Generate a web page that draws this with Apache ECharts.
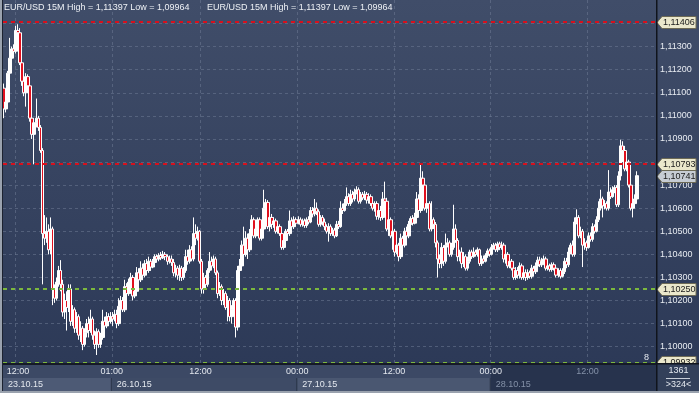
<!DOCTYPE html>
<html><head><meta charset="utf-8">
<script src="https://cdn.jsdelivr.net/npm/echarts@6/dist/echarts.min.js"></script>
<style>html,body{margin:0;padding:0;background:#34415c;}#c{width:699px;height:393px;}</style>
</head><body><div id="c"></div>
<script>
// prices stored as points above 1.00000 : price = 1 + pts / 100000
const openPts = [
11120,11030,11060,11185,11250,11290,11280,11370,11360,11230,
11150,11100,11170,11130,10990,10920,10970,10990,10950,10850,
10490,10470,10500,10420,10510,10250,10210,10280,10330,10270,
10150,10200,10170,10250,10110,10160,10080,10130,10050,10080,
10010,10060,10100,10070,10120,10050,10010,10065,10010,10040,
10110,10090,10130,10110,10130,10120,10140,10100,10175,10200,
10160,10260,10230,10280,10300,10220,10240,10320,10290,10340,
10310,10360,10330,10370,10345,10365,10390,10380,10395,10385,
10400,10390,10370,10380,10365,10320,10340,10310,10340,10300,
10330,10390,10370,10420,10380,10490,10470,10500,10370,10250,
10300,10270,10330,10370,10350,10380,10320,10230,10260,10200,
10230,10170,10200,10130,10160,10200,10085,10330,10350,10440,
10400,10470,10420,10490,10550,10480,10510,10550,10470,10510,
10600,10625,10520,10560,10530,10545,10500,10520,10490,10430,
10460,10500,10490,10545,10520,10550,10535,10550,10530,10545,
10525,10550,10540,10590,10575,10600,10585,10530,10560,10540,
10520,10500,10520,10490,10505,10480,10530,10520,10600,10590,
10620,10650,10620,10660,10640,10670,10680,10630,10660,10645,
10660,10635,10650,10620,10600,10620,10565,10590,10560,10640,
10630,10510,10550,10480,10500,10410,10440,10390,10470,10440,
10500,10480,10530,10555,10535,10560,10640,10590,10730,10700,
10600,10620,10510,10550,10530,10450,10380,10360,10430,10370,
10440,10450,10400,10430,10510,10460,10390,10410,10360,10390,
10340,10370,10410,10390,10410,10400,10420,10360,10380,10370,
10395,10415,10400,10430,10440,10420,10445,10430,10440,10380,
10400,10350,10370,10340,10300,10330,10310,10350,10300,10320,
10300,10320,10305,10340,10325,10350,10375,10355,10370,10380,
10340,10350,10335,10355,10340,10310,10330,10305,10325,10370,
10355,10410,10440,10400,10540,10560,10480,10500,10440,10450,
10430,10480,10465,10520,10500,10550,10600,10640,10610,10620,
10600,10670,10650,10680,10690,10615,10740,10870,10850,10770,
10800,10700,10600,10620,10640
];
const closePts = [
11030,11060,11185,11250,11290,11280,11370,11360,11230,11150,
11100,11170,11130,10990,10920,10970,10990,10950,10850,10490,
10470,10500,10420,10510,10250,10210,10280,10330,10270,10150,
10200,10170,10250,10110,10160,10080,10130,10050,10080,10010,
10060,10100,10070,10120,10050,10010,10065,10010,10040,10110,
10090,10130,10110,10130,10120,10140,10100,10175,10200,10160,
10260,10230,10280,10300,10220,10240,10320,10290,10340,10310,
10360,10330,10370,10345,10365,10390,10380,10395,10385,10400,
10390,10370,10380,10365,10320,10340,10310,10340,10300,10330,
10390,10370,10420,10380,10490,10470,10500,10370,10250,10300,
10270,10330,10370,10350,10380,10320,10230,10260,10200,10230,
10170,10200,10130,10160,10200,10085,10330,10350,10440,10400,
10470,10420,10490,10550,10480,10510,10550,10470,10510,10600,
10625,10520,10560,10530,10545,10500,10520,10490,10430,10460,
10500,10490,10545,10520,10550,10535,10550,10530,10545,10525,
10550,10540,10590,10575,10600,10585,10530,10560,10540,10520,
10500,10520,10490,10505,10480,10530,10520,10600,10590,10620,
10650,10620,10660,10640,10670,10680,10630,10660,10645,10660,
10635,10650,10620,10600,10620,10565,10590,10560,10640,10630,
10510,10550,10480,10500,10410,10440,10390,10470,10440,10500,
10480,10530,10555,10535,10560,10640,10590,10730,10700,10600,
10620,10510,10550,10530,10450,10380,10360,10430,10370,10440,
10450,10400,10430,10510,10460,10390,10410,10360,10390,10340,
10370,10410,10390,10410,10400,10420,10360,10380,10370,10395,
10415,10400,10430,10440,10420,10445,10430,10440,10380,10400,
10350,10370,10340,10300,10330,10310,10350,10300,10320,10300,
10320,10305,10340,10325,10350,10375,10355,10370,10380,10340,
10350,10335,10355,10340,10310,10330,10305,10325,10370,10355,
10410,10440,10400,10540,10560,10480,10500,10440,10450,10430,
10480,10465,10520,10500,10550,10600,10640,10610,10620,10600,
10670,10650,10680,10690,10615,10740,10870,10850,10770,10800,
10700,10600,10620,10640,10741
];
const lowPts = [
10990,11015,11050,11170,11230,11260,11270,11340,11220,11130,
11085,11040,11100,10975,10900,10790,10950,10935,10840,10270,
10440,10450,10400,10400,10180,10190,10200,10260,10240,10130,
10120,10070,10150,10090,10090,10060,10060,10030,10020,9985,
10000,10040,10040,10060,10030,9990,9964,9995,9995,10030,
10070,10080,10090,10100,10090,10110,10080,10090,10150,10150,
10150,10210,10220,10240,10200,10210,10230,10270,10280,10290,
10300,10310,10320,10330,10340,10355,10370,10370,10375,10380,
10375,10355,10360,10350,10305,10300,10290,10285,10285,10290,
10320,10355,10360,10370,10370,10440,10460,10360,10230,10230,
10250,10260,10320,10330,10340,10310,10210,10220,10180,10180,
10160,10110,10110,10100,10140,10040,10070,10320,10340,10390,
10390,10380,10410,10480,10470,10470,10480,10460,10460,10500,
10590,10510,10500,10510,10515,10490,10490,10480,10420,10420,
10450,10480,10480,10510,10510,10525,10530,10520,10520,10515,
10515,10530,10535,10560,10565,10570,10520,10520,10525,10505,
10490,10455,10480,10480,10470,10475,10510,10515,10575,10585,
10610,10610,10610,10625,10630,10660,10620,10620,10635,10635,
10620,10620,10610,10590,10585,10550,10550,10545,10550,10620,
10500,10480,10470,10420,10390,10400,10370,10380,10430,10430,
10470,10470,10520,10525,10530,10550,10570,10580,10660,10590,
10580,10500,10500,10510,10430,10300,10340,10340,10350,10360,
10430,10390,10390,10420,10450,10370,10370,10340,10345,10330,
10330,10360,10380,10385,10390,10390,10350,10350,10360,10365,
10385,10390,10395,10420,10410,10410,10420,10420,10365,10360,
10340,10340,10330,10290,10290,10295,10295,10290,10290,10285,
10290,10295,10295,10315,10315,10340,10345,10345,10360,10330,
10330,10325,10325,10330,10300,10300,10295,10300,10315,10340,
10345,10400,10390,10390,10530,10470,10470,10345,10420,10415,
10425,10455,10455,10490,10495,10540,10590,10560,10595,10590,
10590,10640,10645,10665,10605,10605,10720,10800,10760,10760,
10690,10590,10560,10600,10630
];
const highPts = [
11140,11075,11195,11338,11300,11310,11390,11397,11380,11245,
11160,11185,11180,11145,11015,10990,11075,11000,10960,10860,
10570,10560,10530,10560,10520,10270,10300,10350,10375,10290,
10230,10240,10270,10270,10180,10170,10150,10140,10110,10090,
10080,10120,10130,10160,10130,10070,10080,10075,10060,10160,
10130,10150,10145,10150,10150,10160,10160,10210,10220,10215,
10290,10275,10295,10320,10310,10260,10345,10340,10370,10360,
10375,10380,10390,10380,10380,10400,10400,10405,10410,10415,
10410,10400,10395,10395,10380,10355,10350,10355,10350,10345,
10420,10420,10440,10435,10560,10530,10520,10505,10380,10320,
10310,10340,10410,10390,10395,10390,10330,10280,10270,10250,
10240,10220,10210,10180,10210,10210,10350,10380,10460,10520,
10500,10490,10510,10570,10560,10530,10560,10560,10520,10680,
10640,10635,10580,10575,10560,10555,10540,10530,10500,10470,
10510,10510,10590,10560,10565,10560,10565,10560,10555,10555,
10560,10565,10605,10605,10640,10625,10595,10570,10570,10555,
10530,10535,10530,10515,10515,10545,10545,10630,10620,10640,
10690,10665,10680,10675,10685,10695,10690,10670,10670,10675,
10670,10665,10660,10640,10630,10630,10600,10610,10670,10715,
10645,10570,10560,10510,10510,10460,10450,10490,10480,10515,
10520,10545,10565,10570,10580,10670,10660,10790,10760,10720,
10640,10630,10630,10560,10540,10460,10400,10450,10440,10490,
10470,10460,10450,10615,10530,10470,10420,10430,10410,10400,
10390,10420,10420,10430,10420,10430,10425,10395,10395,10405,
10425,10425,10445,10450,10450,10455,10455,10455,10450,10410,
10410,10385,10380,10360,10345,10345,10365,10360,10335,10335,
10335,10330,10355,10350,10365,10390,10390,10385,10395,10390,
10365,10360,10365,10365,10350,10340,10340,10340,10385,10385,
10430,10450,10460,10560,10595,10570,10520,10510,10470,10460,
10495,10495,10535,10530,10565,10630,10680,10650,10635,10630,
10765,10690,10695,10700,10700,10760,10897,10890,10870,10820,
10810,10710,10630,10660,10760
];
// sessions: [date label, first bar time (minutes), bar count] – 15 minute bars
const sessions = [['23.10.15', 630, 54], ['26.10.15', 60, 92], ['27.10.15', 0, 96], ['28.10.15', 0, 73]];
const emptySlots = 9;
const timeTickCats = ['23.10.15 12:00','26.10.15 01:00','26.10.15 12:00','27.10.15 00:00','27.10.15 12:00','28.10.15 00:00','28.10.15 12:00'];
const dateLabels = ['23.10.15','26.10.15','27.10.15','28.10.15'];
const yTicks = [1.100,1.101,1.102,1.103,1.104,1.105,1.106,1.107,1.108,1.109,1.110,1.111,1.112,1.113,1.114];
const redLevels = [1.11406, 1.10793];
const greenLevels = [1.10250, 1.09932];
const lastPrice = 1.10741;
const headerText = 'EUR/USD 15M High = 1,11397 Low = 1,09964';
const barsInfo = ['1361', '>324<'];

const toPrice = v => 1 + v / 100000;
const fmt = v => v.toFixed(5).replace('.', ',');
const categories = [];
sessions.forEach(([d, start, n]) => {
  for (let k = 0; k < n; k++) {
    const m = start + 15 * k;
    categories.push(d + ' ' + String(Math.floor(m / 60)).padStart(2, '0') + ':' + String(m % 60).padStart(2, '0'));
  }
});
for (let k = 0; k < emptySlots; k++) categories.push('empty' + k);
const candleData = openPts.map((o, i) => [toPrice(o), toPrice(closePts[i]), toPrice(lowPts[i]), toPrice(highPts[i])]);

const FONT = 'Liberation Sans, Arial, sans-serif';
const chart = echarts.init(document.getElementById('c'), null, {renderer: 'canvas'});
const G = {left: 3, right: 43, top: 0, bottom: 29};
const grid = 'rgba(110,122,148,0.55)';
chart.setOption({
  animation: false,
  backgroundColor: new echarts.graphic.LinearGradient(0, 0, 0, 1, [{offset: 0, color: '#404d69'}, {offset: 1, color: '#2b3856'}]),
  grid: {left: G.left, right: G.right, top: G.top, bottom: G.bottom, containLabel: false},
  xAxis: {
    type: 'category', data: categories, boundaryGap: true,
    axisLine: {show: false}, axisTick: {show: false}, axisLabel: {show: false},
    splitLine: {show: true, interval: (i, v) => timeTickCats.includes(v), lineStyle: {color: grid, type: [3, 3], width: 1}}
  },
  yAxis: {
    type: 'value', position: 'right', min: 1.09925, max: 1.11502,
    axisLine: {show: false},
    axisTick: {show: false, customValues: yTicks},
    axisLabel: {customValues: yTicks, formatter: fmt, color: '#e8ecf2', fontSize: 9, fontFamily: FONT, margin: 4},
    splitLine: {show: true, lineStyle: {color: grid, type: [3, 3], width: 1}}
  },
  series: [{
    type: 'candlestick', data: candleData, barWidth: 3, silent: true,
    itemStyle: {color: '#ffffff', color0: '#e0101e', borderColor: '#ffffff', borderColor0: '#ffffff', borderWidth: 1},
    markLine: {
      silent: true, symbol: ['none', 'none'], label: {show: false}, precision: 5,
      lineStyle: {type: [4, 4], width: 2},
      data: redLevels.map(v => ({yAxis: v, lineStyle: {color: '#d8101c', type: [4, 4], width: 2}}))
        .concat(greenLevels.map(v => ({yAxis: v, lineStyle: {color: '#7cb83e', type: [4, 4], width: 2}})))
    }
  }]
});

const W = 699, H = 393;
const axisX = W - G.right;
const bottomY = H - G.bottom;
const cx = c => chart.convertToPixel({xAxisIndex: 0}, c);
const py = v => chart.convertToPixel({yAxisIndex: 0}, v);
const bw = cx(categories[1]) - cx(categories[0]);
const dayStartIdx = [];
let acc = 0;
sessions.forEach(s => { dayStartIdx.push(acc); acc += s[2]; });
const bx = i => cx(categories[i]) - bw / 2;

const els = [];
// price tags
function tag(v, fill) {
  const y = Math.round(py(v)) + 0.5;
  const x0 = axisX + 1;
  els.push({type: 'polygon', shape: {points: [[x0, y], [x0 + 5, y - 6], [W - 3, y - 6], [W - 3, y + 6], [x0 + 5, y + 6]]}, style: {fill: fill, stroke: '#6d6a55', lineWidth: 1}, z: 20});
  els.push({type: 'text', x: x0 + 6, y: y, style: {text: fmt(v), fill: '#1a1a1a', font: '9px ' + FONT, verticalAlign: 'middle'}, z: 21});
}
redLevels.forEach(v => tag(v, '#ebe8cc'));
tag(lastPrice, '#c6ccd4');
greenLevels.forEach(v => tag(v, '#ebe8cc'));
// bottom time axis band
els.push({type: 'rect', shape: {x: 0, y: bottomY, width: axisX, height: H - bottomY}, style: {fill: '#3c4965'}, z: 30});
const dayColors = ['#4d5a75', '#3e4b66', '#4a5771', '#27334d'];
dayStartIdx.forEach((s, k) => {
  const x0 = k === 0 ? G.left : bx(s);
  const x1 = k + 1 < dayStartIdx.length ? bx(dayStartIdx[k + 1]) : axisX;
  const last = k === dayStartIdx.length - 1;
  els.push({type: 'rect', shape: {x: x0, y: last ? bottomY : bottomY + 14, width: x1 - x0, height: last ? H - bottomY - 2 : 13}, style: {fill: dayColors[k]}, z: 31});
  if (k > 0) els.push({type: 'rect', shape: {x: x0 - 1, y: bottomY + 14, width: 1, height: 13}, style: {fill: '#2a3449'}, z: 32});
  els.push({type: 'text', x: x0 + 5, y: bottomY + 21, style: {text: dateLabels[k], fill: last ? '#8491a8' : '#e4e8ef', font: '9px ' + FONT, verticalAlign: 'middle'}, z: 33});
});
timeTickCats.forEach((c, k) => {
  const i = categories.indexOf(c);
  const x = bx(i);
  els.push({type: 'text', x: Math.max(x, 18), y: bottomY + 8, style: {text: c.split(' ')[1], fill: i > dayStartIdx[3] ? '#8491a8' : '#e4e8ef', font: '9px ' + FONT, align: 'center', verticalAlign: 'middle'}, z: 33});
});
els.push({type: 'rect', shape: {x: 0, y: bottomY - 1, width: axisX, height: 2}, style: {fill: '#151a25'}, z: 34});
// separator of price axis
els.push({type: 'rect', shape: {x: axisX, y: 0, width: 1.5, height: H}, style: {fill: '#10141c'}, z: 34});
// info box bottom right
els.push({type: 'rect', shape: {x: axisX + 1.5, y: bottomY, width: W - axisX, height: H - bottomY}, style: {fill: '#33405a'}, z: 30});
els.push({type: 'rect', shape: {x: axisX, y: bottomY - 1, width: W - axisX, height: 1.5}, style: {fill: '#10141c'}, z: 34});
els.push({type: 'text', x: (axisX + W) / 2 + 1, y: bottomY + 7, style: {text: barsInfo[0], fill: '#e4e8ef', font: '9px ' + FONT, align: 'center', verticalAlign: 'middle'}, z: 33});
els.push({type: 'rect', shape: {x: axisX + 10, y: bottomY + 14, width: 24, height: 1}, style: {fill: '#c8ced8'}, z: 33});
els.push({type: 'text', x: (axisX + W) / 2 + 1, y: bottomY + 21, style: {text: barsInfo[1], fill: '#e4e8ef', font: '9px ' + FONT, align: 'center', verticalAlign: 'middle'}, z: 33});
// frame
els.push({type: 'rect', shape: {x: 0, y: 0, width: 2, height: H}, style: {fill: '#9aa2ae'}, z: 35});
els.push({type: 'rect', shape: {x: 2, y: 0, width: 1, height: H}, style: {fill: '#1c2230'}, z: 35});
els.push({type: 'rect', shape: {x: 0, y: H - 2, width: W, height: 2}, style: {fill: '#9aa2ae'}, z: 35});
// header
els.push({type: 'text', x: 4, y: 8, style: {text: headerText, fill: '#eef1f5', font: '9px ' + FONT, verticalAlign: 'middle'}, z: 35});
els.push({type: 'text', x: 207, y: 8, style: {text: headerText, fill: '#eef1f5', font: '9px ' + FONT, verticalAlign: 'middle'}, z: 35});
els.push({type: 'text', x: axisX - 12, y: bottomY - 6, style: {text: '8', fill: '#e4e8ef', font: '9px ' + FONT, verticalAlign: 'middle'}, z: 16});
chart.setOption({graphic: els});
</script>
</body></html>
